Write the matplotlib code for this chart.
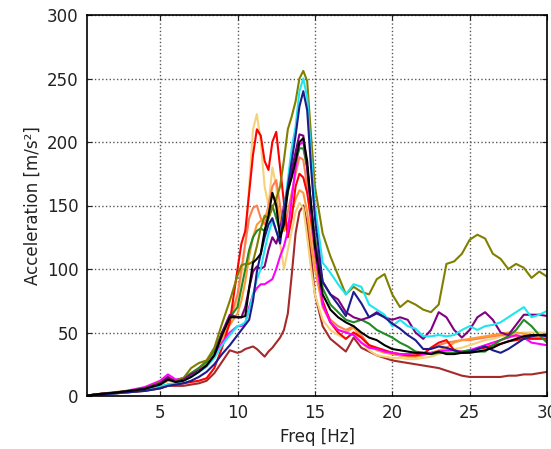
import matplotlib
matplotlib.use('Agg')
from matplotlib import pyplot as plt

# frequency grid [Hz], finer around the resonance
freq = [0.25, 1, 2, 3, 4, 5, 5.5, 6, 6.5, 7, 7.5, 8, 8.5, 9, 9.5,
        10, 10.25, 10.5, 10.75, 11, 11.25, 11.5, 11.75, 12, 12.25, 12.5, 12.75,
        13, 13.25, 13.5, 13.75, 14, 14.25, 14.5, 14.75, 15,
        15.5, 16, 16.5, 17, 17.5, 18, 18.5, 19, 19.5, 20,
        20.5, 21, 21.5, 22, 22.5, 23, 23.5, 24, 24.5, 25,
        25.5, 26, 26.5, 27, 27.5, 28, 28.5, 29, 29.5, 30]

acc_olive = [0.3, 1.5, 3, 4, 6, 11, 14, 12, 14, 22, 26, 28, 38, 57, 75,
             95, 103, 104, 104, 106, 118, 132, 142, 140, 148, 155, 165, 186, 210, 220, 232, 250, 256, 248, 205, 165,
             128, 110, 95, 80, 86, 82, 80, 92, 96, 80, 70, 75, 72, 68, 66, 72, 104, 106, 112, 123,
             127, 124, 112, 108, 100, 104, 101, 93, 98, 94]
acc_cyan = [0.3, 1, 2, 3, 5, 8, 9, 10, 12, 15, 19, 23, 30, 40, 48,
            55, 56, 58, 68, 80, 92, 100, 115, 128, 138, 130, 125, 145, 170, 195, 212, 240, 250, 235, 190, 150,
            105, 97, 88, 80, 88, 86, 72, 68, 64, 55, 60, 55, 53, 47, 47, 48, 47, 48, 52, 55,
            52, 55, 56, 58, 62, 66, 70, 62, 64, 67]
acc_navy = [0.3, 1, 2, 3, 4, 6, 8, 9, 10, 12, 15, 19, 25, 33, 40,
            48, 52, 56, 60, 75, 98, 112, 125, 135, 140, 130, 120, 145, 165, 185, 205, 228, 240, 225, 180, 140,
            90, 80, 72, 63, 82, 73, 62, 65, 62, 57, 53, 48, 44, 37, 37, 39, 38, 36, 34, 35,
            37, 39, 36, 34, 37, 41, 45, 47, 48, 47]
acc_purple = [0.3, 1.5, 2.5, 4, 6, 10, 15, 11, 13, 17, 20, 24, 32, 50, 64,
              62, 62, 70, 85, 98, 102, 100, 102, 115, 125, 120, 130, 150, 165, 178, 192, 206, 205, 180, 150, 120,
              90, 80, 76, 66, 62, 60, 62, 66, 62, 60, 62, 60, 50, 45, 52, 66, 62, 52, 46, 52,
              62, 66, 60, 50, 48, 56, 64, 64, 64, 63]
acc_black = [0.3, 1.5, 2.5, 4, 5.5, 9, 13, 11, 12, 15, 19, 24, 32, 48, 62,
             62, 62, 63, 85, 105, 108, 112, 130, 142, 160, 150, 125, 135, 162, 172, 185, 200, 203, 185, 150, 118,
             80, 68, 62, 58, 55, 50, 46, 44, 40, 37, 36, 35, 34, 34, 33, 35, 33, 33, 34, 34,
             35, 36, 38, 41, 43, 45, 47, 48, 48, 48]
acc_red = [0.3, 1, 2, 3, 4.5, 7, 9, 9, 10, 11, 12, 14, 22, 38, 58,
           100, 120, 130, 160, 190, 210, 205, 185, 178, 200, 208, 180, 152, 125, 140, 165, 175, 172, 160, 140, 120,
           75, 58, 50, 45, 50, 46, 40, 38, 36, 34, 33, 32, 32, 33, 38, 42, 44, 36, 34, 35,
           37, 38, 40, 41, 43, 44, 45, 45, 45, 45]
acc_khaki = [0.3, 1.5, 2.5, 4, 6, 9, 12, 12, 14, 17, 21, 27, 35, 46, 58,
             75, 95, 120, 165, 210, 222, 200, 165, 150, 180, 165, 120, 100, 115, 130, 145, 152, 148, 125, 100, 80,
             60, 52, 48, 45, 50, 42, 36, 32, 31, 30, 30, 29, 29, 30, 31, 33, 35, 37, 38, 40,
             42, 44, 45, 47, 48, 49, 50, 50, 50, 50]
acc_coral = [0.3, 1.5, 2.5, 4, 6, 10, 13, 12, 14, 18, 22, 28, 36, 48, 60,
             80, 100, 120, 140, 148, 150, 140, 135, 150, 165, 170, 150, 130, 145, 160, 175, 188, 186, 165, 135, 110,
             72, 60, 55, 52, 55, 48, 40, 37, 35, 33, 32, 32, 31, 33, 38, 40, 42, 43, 44, 44,
             45, 46, 47, 48, 48, 47, 47, 46, 46, 45]
acc_orange = [0.3, 1.2, 2.2, 3.5, 5, 9, 12, 11, 13, 16, 20, 26, 34, 45, 56,
              65, 75, 90, 110, 125, 135, 138, 140, 148, 158, 155, 140, 130, 135, 145, 155, 162, 160, 145, 120, 100,
              70, 58, 52, 50, 54, 46, 40, 36, 34, 33, 32, 31, 31, 32, 34, 36, 38, 42, 44, 45,
              46, 47, 48, 49, 50, 50, 49, 48, 47, 46]
acc_brown = [0.3, 1, 2, 3, 4, 6, 8, 8, 8, 9, 10, 12, 18, 27, 36,
             34, 35, 37, 38, 39, 37, 34, 31, 35, 38, 42, 46, 52, 65, 95, 128, 145, 150, 135, 110, 80,
             55, 45, 40, 35, 46, 38, 35, 32, 30, 28, 27, 26, 25, 24, 23, 22, 20, 18, 16, 15,
             15, 15, 15, 15, 16, 16, 17, 17, 18, 19]
acc_magenta = [0.3, 1.5, 2.5, 4.5, 7, 12, 17, 13, 14, 17, 20, 24, 31, 42, 50,
               55, 55, 57, 70, 80, 85, 88, 88, 90, 92, 100, 110, 118, 130, 155, 180, 198, 200, 180, 145, 115,
               72, 58, 52, 50, 48, 42, 38, 37, 35, 34, 33, 33, 34, 33, 34, 35, 36, 36, 35, 36,
               38, 40, 42, 44, 46, 48, 46, 42, 41, 40]
acc_green = [0.3, 1.5, 2.5, 4, 6, 10, 13, 12, 14, 18, 22, 27, 36, 50, 62,
             70, 85, 100, 115, 125, 130, 132, 130, 140, 150, 140, 130, 145, 160, 175, 185, 195, 195, 180, 150, 125,
             85, 72, 66, 60, 58, 60, 57, 52, 49, 46, 42, 39, 35, 34, 33, 34, 34, 34, 35, 36,
             35, 35, 40, 44, 47, 52, 60, 55, 48, 42]

series = [(acc_brown, '#a52a2a'),
          (acc_khaki, '#f5d27a'),
          (acc_coral, '#ff7f50'),
          (acc_orange, '#ff9933'),
          (acc_red, '#ff0000'),
          (acc_magenta, '#ff00ff'),
          (acc_green, '#228b22'),
          (acc_olive, '#808000'),
          (acc_purple, '#800080'),
          (acc_cyan, '#1ee6f0'),
          (acc_navy, '#1c1c8c'),
          (acc_black, '#000000')]

fig = plt.figure(figsize=(5.51, 4.49), dpi=100)
ax = fig.add_axes([87 / 551., 1 - 396 / 449., (547 - 87) / 551., (396 - 15) / 449.])

for vals, col in series:
    ax.plot(freq, vals, color=col, linewidth=1.5)

ax.set_xlim(0.27, 30)
ax.set_ylim(0, 300)
ax.set_xticks([5, 10, 15, 20, 25, 30])
ax.set_yticks([0, 50, 100, 150, 200, 250, 300])
ax.grid(True, color='0.35', linestyle=':', linewidth=1)
ax.tick_params(direction='in', top=True, right=True, labelsize=12, colors='#222222', pad=6)
for sp in ax.spines.values():
    sp.set_linewidth(1.2)
ax.set_xlabel('Freq [Hz]', fontsize=12, color='#222222')
ax.set_ylabel('Acceleration [m/s²]', fontsize=12, color='#222222')

plt.savefig('out.png', dpi=100)
